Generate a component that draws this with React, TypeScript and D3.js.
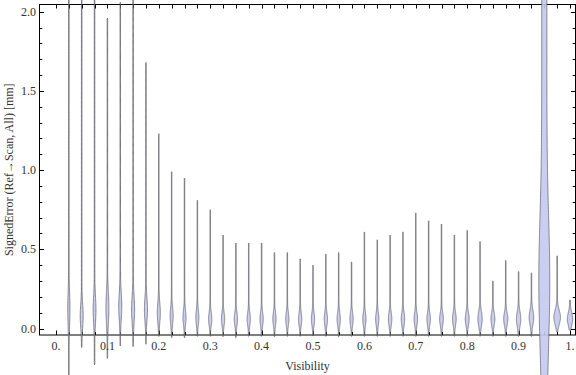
import React from 'react';
import * as d3 from 'd3';

// violin positions (Visibility bins)
const visibility = [
  0.025, 0.05, 0.075, 0.1, 0.125, 0.15, 0.175, 0.2, 0.225, 0.25,
  0.275, 0.3, 0.325, 0.35, 0.375, 0.4, 0.425, 0.45, 0.475, 0.5,
  0.525, 0.55, 0.575, 0.6, 0.625, 0.65, 0.675, 0.7, 0.725, 0.75,
  0.775, 0.8, 0.825, 0.85, 0.875, 0.9, 0.925, 0.95, 0.975, 1.0,
];
// largest / smallest signed error per bin [mm]
const errMax = [
  2.6, 2.45, 2.3, 1.96, 2.06, 2.2, 1.68, 1.23, 0.99, 0.95,
  0.81, 0.75, 0.59, 0.54, 0.54, 0.54, 0.48, 0.48, 0.44, 0.4,
  0.47, 0.48, 0.42, 0.61, 0.56, 0.59, 0.61, 0.73, 0.68, 0.66,
  0.59, 0.62, 0.55, 0.3, 0.43, 0.36, 0.35, 2.6, 0.46, 0.18,
];
const errMin = [
  -0.36, -0.12, -0.23, -0.19, -0.11, -0.115, -0.1, -0.05, -0.058, -0.058,
  -0.05, -0.05, -0.052, -0.058, -0.05, -0.05, -0.052, -0.05, -0.05, -0.048,
  -0.05, -0.052, -0.05, -0.05, -0.05, -0.05, -0.05, -0.05, -0.05, -0.05,
  -0.05, -0.05, -0.05, -0.05, -0.05, -0.05, -0.05, -0.45, -0.022, -0.01,
];
// where the density is widest, how spread the bulk is, and relative densities
const modeErr = [
  0.12, 0.08, 0.12, 0.13, 0.14, 0.12, 0.12, 0.1, 0.08, 0.07,
  0.07, 0.06, 0.06, 0.06, 0.06, 0.06, 0.06, 0.06, 0.06, 0.06,
  0.06, 0.06, 0.06, 0.06, 0.06, 0.06, 0.06, 0.06, 0.06, 0.06,
  0.06, 0.06, 0.06, 0.06, 0.06, 0.06, 0.07, 0.3, 0.07, 0.06,
];
const spreadErr = [
  0.1, 0.07, 0.08, 0.09, 0.08, 0.08, 0.07, 0.06, 0.05, 0.045,
  0.045, 0.04, 0.04, 0.04, 0.04, 0.04, 0.04, 0.04, 0.04, 0.04,
  0.04, 0.04, 0.04, 0.04, 0.04, 0.04, 0.04, 0.04, 0.04, 0.04,
  0.04, 0.04, 0.045, 0.04, 0.04, 0.045, 0.045, 0.4, 0.045, 0.04,
];
const peakDensity = [
  0.2, 0.27, 0.26, 0.27, 0.28, 0.28, 0.28, 0.28, 0.28, 0.28,
  0.28, 0.3, 0.3, 0.3, 0.3, 0.3, 0.3, 0.3, 0.3, 0.3,
  0.3, 0.3, 0.3, 0.3, 0.3, 0.32, 0.32, 0.32, 0.32, 0.34,
  0.34, 0.36, 0.4, 0.36, 0.38, 0.4, 0.42, 1.0, 0.6, 0.49,
];
const tailDensity = [
  0.05, 0.05, 0.05, 0.05, 0.05, 0.05, 0.05, 0.05, 0.05, 0.05,
  0.05, 0.05, 0.05, 0.05, 0.05, 0.05, 0.05, 0.05, 0.05, 0.05,
  0.05, 0.05, 0.05, 0.05, 0.05, 0.05, 0.05, 0.05, 0.05, 0.05,
  0.05, 0.05, 0.05, 0.05, 0.05, 0.05, 0.05, 0.47, 0.05, 0.05,
];

const xTicks = [0, 0.1, 0.2, 0.3, 0.4, 0.5, 0.6, 0.7, 0.8, 0.9, 1.0];
const xTickLabels = ['0.', '0.1', '0.2', '0.3', '0.4', '0.5', '0.6', '0.7', '0.8', '0.9', '1.'];
const yTicks = [0, 0.5, 1, 1.5, 2];
const yTickLabels = ['0.0', '0.5', '1.0', '1.5', '2.0'];

const width = 576;
const height = 375;
const frame = { left: 39.5, right: 575.5, top: 4.5, bottom: 335 };

const x = d3.scaleLinear().domain([0, 1]).range([56, 570]);
const y = d3.scaleLinear().domain([0, 2]).range([328.5, 11.7]);
const w = d3.scaleLinear().domain([0, 1]).range([0, 5.5]);

const font = 'Liberation Serif, Times New Roman, serif';

function violinPath(i: number) {
  const lo = errMin[i];
  const hi = errMax[i];
  const n = 320;
  const pts = d3.range(n + 1).map((k) => {
    const v = lo + ((hi - lo) * k) / n;
    const g = Math.exp(-0.5 * Math.pow((v - modeErr[i]) / spreadErr[i], 2));
    let d = tailDensity[i] + (peakDensity[i] - tailDensity[i]) * g;
    if (k === 0 || k === n) d = 0;
    return { v, d };
  });
  const cx = x(visibility[i]);
  const area = d3
    .area<{ v: number; d: number }>()
    .x0((p) => cx - w(p.d))
    .x1((p) => cx + w(p.d))
    .y((p) => y(p.v))
    .curve(d3.curveLinear);
  return area(pts) || '';
}

export default function App() {
  const fineX = d3.range(0, 41).map((k) => k * 0.025);
  const fineY = d3.range(0, 21).map((k) => k * 0.1);

  return (
    <svg
      width={width}
      height={height}
      style={{ position: 'absolute', left: 0, top: 0, background: '#fff' }}
    >
      {/* frame */}
      <rect
        x={frame.left}
        y={frame.top}
        width={frame.right - frame.left}
        height={frame.bottom - frame.top}
        fill="none"
        stroke="#000"
        strokeWidth={1}
      />
      {/* x ticks bottom & top */}
      {fineX.map((t, k) => {
        const major = k % 4 === 0;
        const px = Math.round(x(t)) + 0.5;
        return (
          <g key={'xt' + k} stroke="#000" strokeWidth={1}>
            <line x1={px} x2={px} y1={frame.bottom} y2={frame.bottom - (major ? 4.5 : 3)} />
            <line x1={px} x2={px} y1={frame.top} y2={frame.top + 4} />
          </g>
        );
      })}
      {/* y ticks left & right */}
      {fineY.map((t, k) => {
        const major = k % 5 === 0;
        const py = Math.round(y(t)) + 0.5;
        return (
          <g key={'yt' + k} stroke="#000" strokeWidth={1}>
            <line x1={frame.left} x2={frame.left + (major ? 4.5 : 2.8)} y1={py} y2={py} />
            <line x1={frame.right} x2={frame.right - (major ? 4.5 : 2.8)} y1={py} y2={py} />
          </g>
        );
      })}
      {/* violins */}
      {visibility.map((_, i) => (
        <path
          key={'v' + i}
          d={violinPath(i)}
          fill="#c4c9f0"
          fillOpacity={0.9}
          stroke="#4a4a4a"
          strokeOpacity={0.75}
          strokeWidth={0.8}
        />
      ))}
      {/* tick labels */}
      {xTicks.map((t, k) => (
        <text
          key={'xl' + k}
          x={x(t)}
          y={350}
          textAnchor="middle"
          fontFamily={font}
          fontSize={12}
          fill="#333"
        >
          {xTickLabels[k]}
        </text>
      ))}
      {yTicks.map((t, k) => (
        <text
          key={'yl' + k}
          x={36}
          y={y(t) + 4}
          textAnchor="end"
          fontFamily={font}
          fontSize={12}
          fill="#333"
        >
          {yTickLabels[k]}
        </text>
      ))}
      {/* axis titles */}
      <text
        x={(frame.left + frame.right) / 2}
        y={370}
        textAnchor="middle"
        fontFamily={font}
        fontSize={12}
        fill="#333"
      >
        Visibility
      </text>
      <text
        transform={`translate(13, ${(frame.top + frame.bottom) / 2}) rotate(-90)`}
        textAnchor="middle"
        fontFamily={font}
        fontSize={12}
        fill="#333"
      >
        SignedError (Ref→Scan, All) [mm]
      </text>
    </svg>
  );
}
